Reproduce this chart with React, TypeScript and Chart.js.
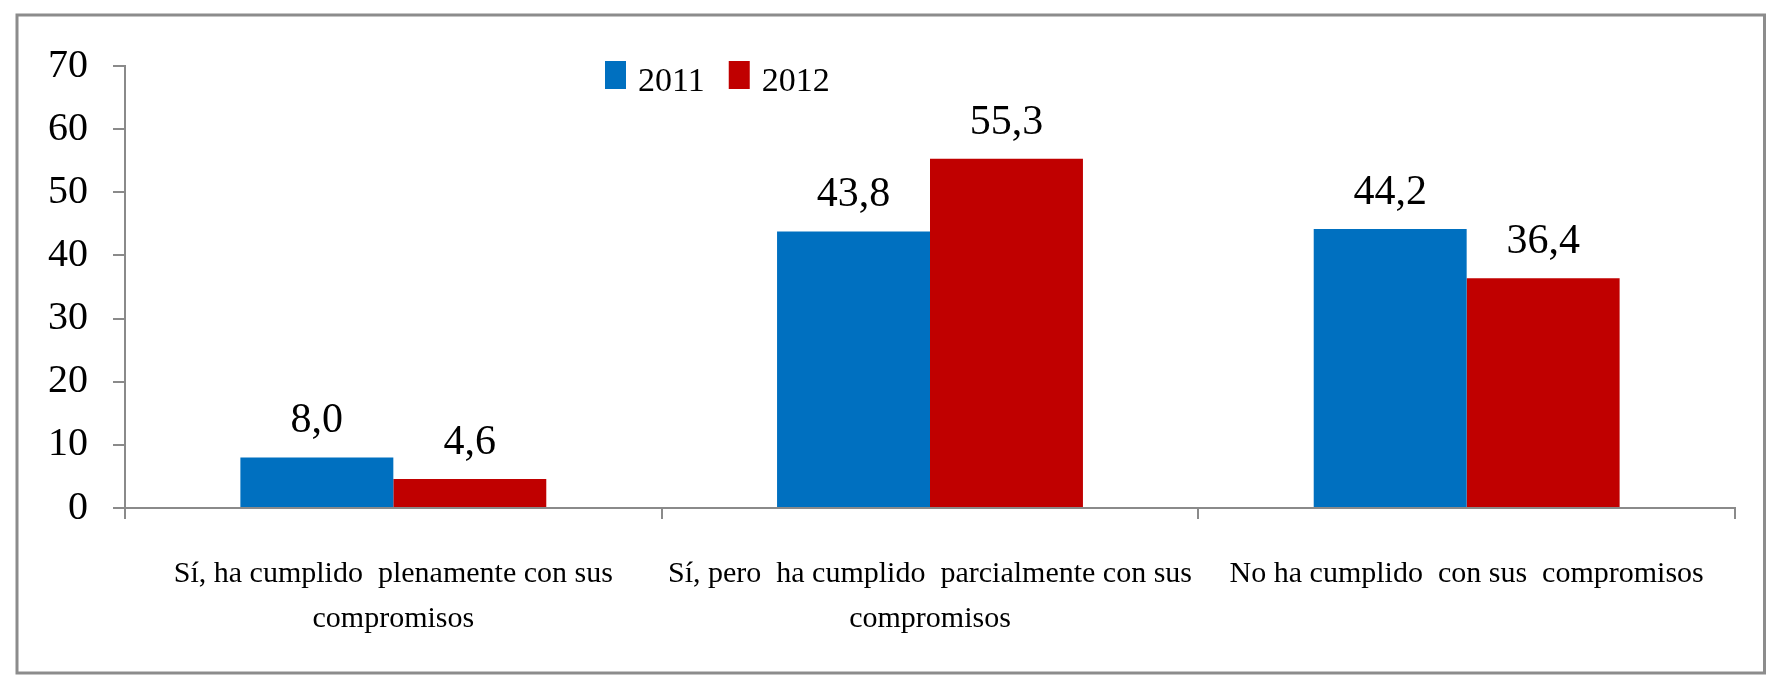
import React, { useEffect, useRef } from "react";
import { Chart, registerables } from "chart.js";

Chart.register(...registerables);

const categories: string[][] = [
  ["Sí, ha cumplido  plenamente con sus", "compromisos"],
  ["Sí, pero  ha cumplido  parcialmente con sus", "compromisos"],
  ["No ha cumplido  con sus  compromisos"],
];
const seriesNames = ["2011", "2012"];
const values2011 = [8.0, 43.8, 44.2];
const values2012 = [4.6, 55.3, 36.4];
const seriesColors = ["#0070C0", "#C00000"];
const yMin = 0;
const yMax = 70;
const yStep = 10;

const FONT = '"Liberation Serif", "DejaVu Serif", serif';
const AXIS_GRAY = "#8a8a8a";

const W = 1767;
const H = 678;

const framePlugin = {
  id: "frame",
  beforeDraw(chart: any) {
    const ctx = chart.ctx;
    ctx.save();
    ctx.fillStyle = "#ffffff";
    ctx.fillRect(0, 0, chart.width, chart.height);
    ctx.strokeStyle = "#8c8c8c";
    ctx.lineWidth = 3;
    ctx.strokeRect(17, 15, chart.width - 17 - 2.5, chart.height - 15 - 5);
    ctx.restore();
  },
};

const legendPlugin = {
  id: "customLegend",
  afterDraw(chart: any) {
    const ctx = chart.ctx;
    ctx.save();
    ctx.font = `34px ${FONT}`;
    ctx.textBaseline = "alphabetic";
    ctx.textAlign = "left";
    let x = 605;
    const boxTop = 61;
    chart.data.datasets.forEach((ds: any) => {
      ctx.fillStyle = ds.backgroundColor;
      ctx.fillRect(x, boxTop, 21, 28);
      ctx.fillStyle = "#000000";
      ctx.fillText(ds.label, x + 33, 91);
      x += 33 + ctx.measureText(ds.label).width + 24;
    });
    ctx.restore();
  },
};

const valueLabelPlugin = {
  id: "valueLabels",
  afterDatasetsDraw(chart: any) {
    const ctx = chart.ctx;
    ctx.save();
    ctx.font = `42px ${FONT}`;
    ctx.fillStyle = "#000000";
    ctx.textAlign = "center";
    ctx.textBaseline = "alphabetic";
    chart.data.datasets.forEach((ds: any, i: number) => {
      const meta = chart.getDatasetMeta(i);
      meta.data.forEach((bar: any, j: number) => {
        const v = ds.data[j] as number;
        const txt = v.toFixed(1).replace(".", ",");
        ctx.fillText(txt, bar.x, bar.y - 25);
      });
    });
    ctx.restore();
  },
};

export default function App() {
  const ref = useRef<HTMLCanvasElement | null>(null);

  useEffect(() => {
    if (!ref.current) return;
    const chart = new Chart(ref.current, {
      type: "bar",
      data: {
        labels: categories,
        datasets: [
          {
            label: seriesNames[0],
            data: values2011,
            backgroundColor: seriesColors[0],
            borderWidth: 0,
            categoryPercentage: 0.57,
            barPercentage: 1.0,
          },
          {
            label: seriesNames[1],
            data: values2012,
            backgroundColor: seriesColors[1],
            borderWidth: 0,
            categoryPercentage: 0.57,
            barPercentage: 1.0,
          },
        ],
      },
      options: {
        responsive: false,
        animation: false,
        devicePixelRatio: 1,
        layout: { padding: { top: 66, right: 32, bottom: 0, left: 0 } },
        plugins: {
          legend: { display: false },
          tooltip: { enabled: false },
        },
        scales: {
          x: {
            offset: true,
            grid: {
              offset: true,
              drawOnChartArea: false,
              drawTicks: true,
              tickLength: 11,
              color: AXIS_GRAY,
              lineWidth: 2,
            },
            border: { display: true, color: AXIS_GRAY, width: 2 },
            ticks: {
              color: "#000000",
              font: { family: FONT, size: 30, lineHeight: 1.5 },
              padding: 33,
              maxRotation: 0,
              autoSkip: false,
            },
            afterFit: (scale: any) => {
              scale.height = 170;
            },
          },
          y: {
            min: yMin,
            max: yMax,
            grid: {
              drawOnChartArea: false,
              drawTicks: true,
              tickLength: 12,
              color: AXIS_GRAY,
              lineWidth: 2,
            },
            border: { display: true, color: AXIS_GRAY, width: 2 },
            ticks: {
              stepSize: yStep,
              color: "#000000",
              font: { family: FONT, size: 40 },
              padding: 25,
            },
            afterFit: (scale: any) => {
              scale.width = 125;
            },
          },
        },
      },
      plugins: [framePlugin, valueLabelPlugin, legendPlugin],
    });
    return () => chart.destroy();
  }, []);

  return (
    <div style={{ position: "fixed", left: 0, top: 0, width: W, height: H, background: "#fff" }}>
      <canvas ref={ref} width={W} height={H} style={{ display: "block", width: W, height: H }} />
    </div>
  );
}
